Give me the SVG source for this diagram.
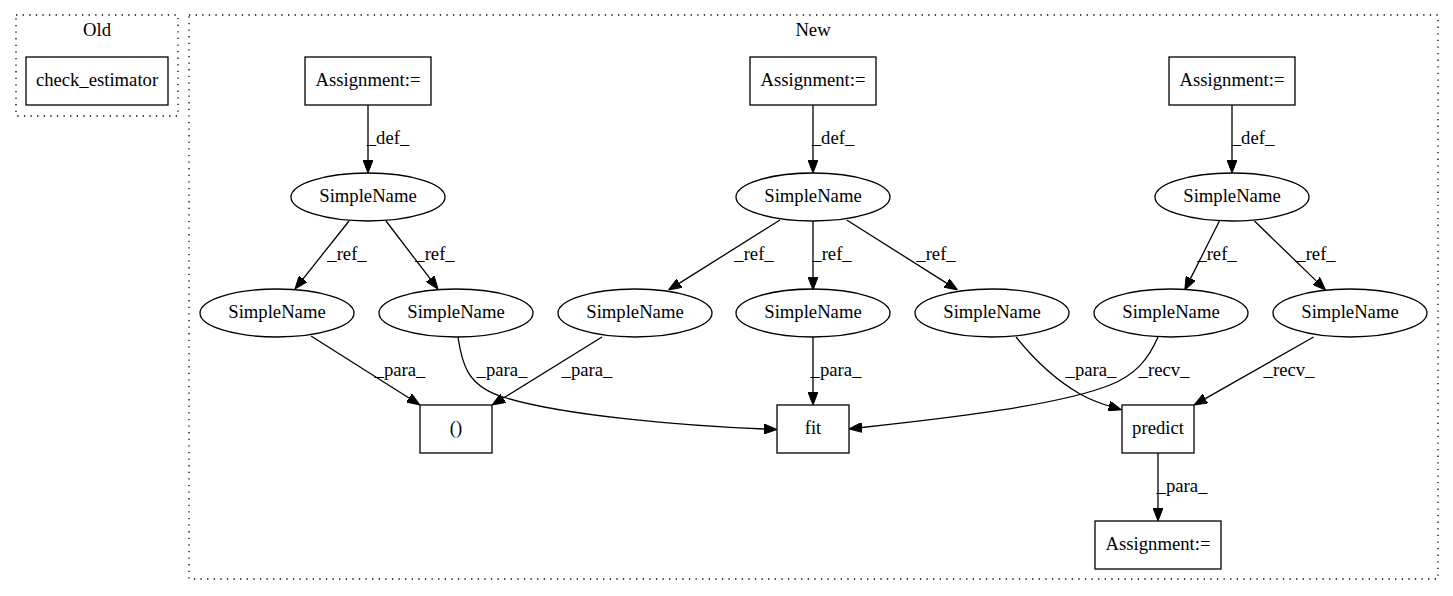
<svg xmlns="http://www.w3.org/2000/svg" width="1453" height="596" viewBox="0 0 1453 596">
<style>
.t{font-family:'Liberation Serif','Times New Roman',Times,'DejaVu Serif',serif;font-size:18.67px;fill:#000;text-anchor:middle}
.cl{fill:none;stroke:#000;stroke-width:1.3;stroke-dasharray:1.3,5.3}
.n{fill:none;stroke:#000;stroke-width:1.3}
.e{fill:none;stroke:#000;stroke-width:1.3;marker-end:url(#ah)}
</style>
<defs>
<marker id="ah" viewBox="0 0 13 10" refX="0" refY="5" markerWidth="13" markerHeight="10" markerUnits="userSpaceOnUse" orient="auto">
<path d="M0,0 L13,5 L0,10 z" fill="#000" stroke="#000" stroke-width="1"/>
</marker>
</defs>
<rect width="1453" height="596" fill="#fff"/>
<g class="t" font-family="Liberation Serif, Times New Roman, serif">
<g id="cluster_old">
<rect class="cl" x="16" y="15" width="162" height="101"/>
<text x="97" y="36">Old</text>
</g>
<g id="cluster_new">
<rect class="cl" x="189" y="15" width="1249" height="564"/>
<text x="813" y="36">New</text>
</g>
<g id="n_check_estimator"><rect class="n" x="26" y="57" width="142" height="48"/><text x="97" y="86">check_estimator</text></g>
<g id="n_assign1"><rect class="n" x="305" y="57" width="126" height="48"/><text x="368" y="86">Assignment:=</text></g>
<g id="n_assign2"><rect class="n" x="750" y="57" width="126" height="48"/><text x="813" y="86">Assignment:=</text></g>
<g id="n_assign3"><rect class="n" x="1169" y="57" width="126" height="48"/><text x="1232" y="86">Assignment:=</text></g>
<g id="n_sn1"><ellipse class="n" cx="368" cy="197" rx="77" ry="24"/><text x="368" y="202">SimpleName</text></g>
<g id="n_sn2"><ellipse class="n" cx="813" cy="197" rx="77" ry="24"/><text x="813" y="202">SimpleName</text></g>
<g id="n_sn3"><ellipse class="n" cx="1232" cy="197" rx="77" ry="24"/><text x="1232" y="202">SimpleName</text></g>
<g id="n_sn4"><ellipse class="n" cx="277" cy="313" rx="77" ry="24"/><text x="277" y="318">SimpleName</text></g>
<g id="n_sn5"><ellipse class="n" cx="456" cy="313" rx="77" ry="24"/><text x="456" y="318">SimpleName</text></g>
<g id="n_sn6"><ellipse class="n" cx="635" cy="313" rx="77" ry="24"/><text x="635" y="318">SimpleName</text></g>
<g id="n_sn7"><ellipse class="n" cx="813" cy="313" rx="77" ry="24"/><text x="813" y="318">SimpleName</text></g>
<g id="n_sn8"><ellipse class="n" cx="992" cy="313" rx="77" ry="24"/><text x="992" y="318">SimpleName</text></g>
<g id="n_sn9"><ellipse class="n" cx="1171" cy="313" rx="77" ry="24"/><text x="1171" y="318">SimpleName</text></g>
<g id="n_sn10"><ellipse class="n" cx="1350" cy="313" rx="77" ry="24"/><text x="1350" y="318">SimpleName</text></g>
<g id="n_paren"><rect class="n" x="420" y="405" width="72" height="48"/><text x="456" y="434">()</text></g>
<g id="n_fit"><rect class="n" x="777" y="405" width="72" height="48"/><text x="813" y="434">fit</text></g>
<g id="n_predict"><rect class="n" x="1122" y="405" width="72" height="48"/><text x="1158" y="434">predict</text></g>
<g id="n_assign4"><rect class="n" x="1095" y="521" width="126" height="48"/><text x="1158" y="550">Assignment:=</text></g>
<g id="edges">
<path class="e" d="M368,105 L368,160"/>
<path class="e" d="M813,105 L813,160"/>
<path class="e" d="M1232,105 L1232,160"/>
<path class="e" d="M349,221 L303.1,278.8"/>
<path class="e" d="M386,221 L430.1,278.7"/>
<path class="e" d="M780,220 L679.5,283.1"/>
<path class="e" d="M813,221 L813,277"/>
<path class="e" d="M846.7,220 L946.6,283.1"/>
<path class="e" d="M1219.4,221 L1190.6,278.4"/>
<path class="e" d="M1254.5,221 L1316.2,280.9"/>
<path class="e" d="M311,336 L409,398"/>
<path class="e" d="M602,337 L503.1,398.2"/>
<path class="e" d="M458,337 C462,365 468,385 500,396 C560,416 690,426 764,429"/>
<path class="e" d="M813,337 L813,392"/>
<path class="e" d="M1016,337 C1032,357 1052,378 1080,394 C1089,399 1099,403 1109,406"/>
<path class="e" d="M1158,337 C1148,360 1135,375 1110,385 C1060,405 950,418 862,427.5"/>
<path class="e" d="M1313.6,337 L1205.3,398.6"/>
<path class="e" d="M1158,453 L1158,508"/>
<text x="388" y="144">_def_</text>
<text x="833" y="144">_def_</text>
<text x="1253" y="144">_def_</text>
<text x="347" y="260">_ref_</text>
<text x="435" y="260">_ref_</text>
<text x="754" y="260">_ref_</text>
<text x="832" y="260">_ref_</text>
<text x="936" y="260">_ref_</text>
<text x="1217" y="260">_ref_</text>
<text x="1316" y="260">_ref_</text>
<text x="400" y="376">_para_</text>
<text x="502" y="376">_para_</text>
<text x="587" y="376">_para_</text>
<text x="836" y="376">_para_</text>
<text x="1091" y="376">_para_</text>
<text x="1164" y="376">_recv_</text>
<text x="1289" y="376">_recv_</text>
<text x="1182" y="492">_para_</text>
</g>
</g>
</svg>
